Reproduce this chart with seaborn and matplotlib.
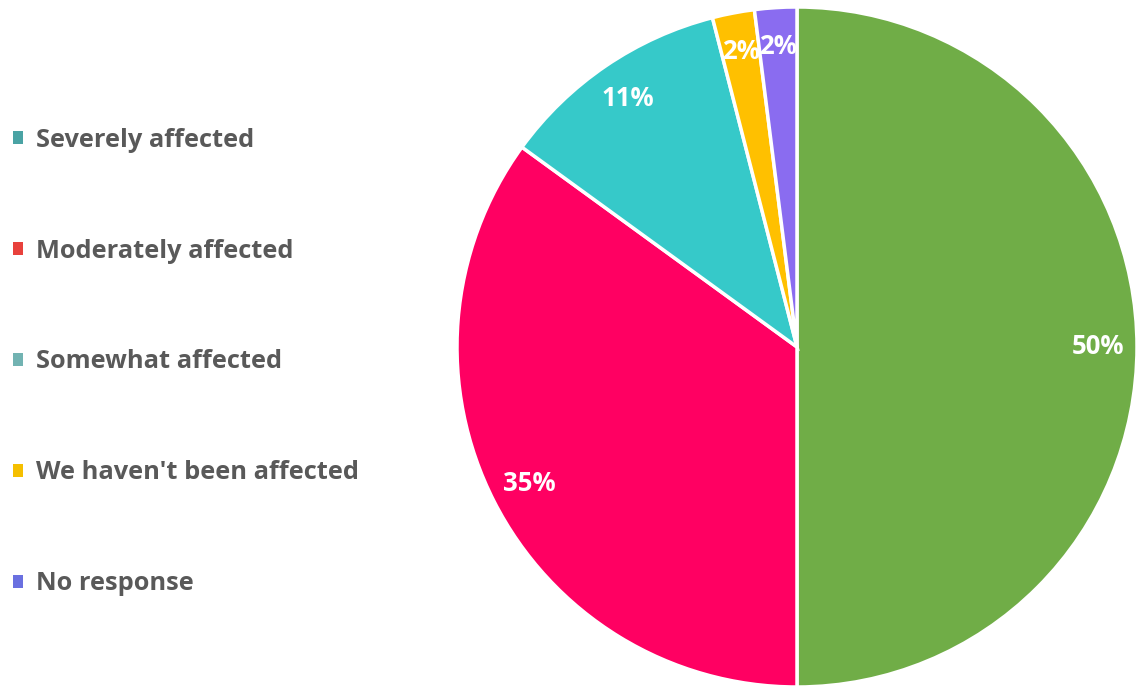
import matplotlib
matplotlib.use("Agg")
import matplotlib.pyplot as plt
from matplotlib.patches import Patch
import seaborn as sns

# Survey responses: how strongly respondents have been affected
categories = ["Severely affected", "Moderately affected", "Somewhat affected",
              "We haven't been affected", "No response"]
shares = [50, 35, 11, 2, 2]

slice_colors = ["#70ad47", "#ff0062", "#36c9c9", "#ffc000", "#8a6cf0"]
legend_colors = ["#4aa3a4", "#e8413c", "#72b3b2", "#f5bf00", "#6a70e0"]

sns.set_theme(style="white")
plt.rcParams["font.family"] = ["Open Sans", "DejaVu Sans"]

W, H = 1142, 687
fig = plt.figure(figsize=(W / 100, H / 100), dpi=100)

cx, cy, r = 797, 347, 340
ax = fig.add_axes([(cx - r) / W, (H - cy - r) / H, 2 * r / W, 2 * r / H])

palette = sns.color_palette(slice_colors)
wedges, texts, autotexts = ax.pie(
    shares,
    colors=palette,
    startangle=90,
    counterclock=False,
    autopct="%d%%",
    pctdistance=0.885,
    wedgeprops=dict(edgecolor="white", linewidth=2.5),
    textprops=dict(color="white", fontsize=18.5, fontweight="bold"),
)
ax.set_aspect("equal")
ax.set_xlim(-1.0, 1.0)
ax.set_ylim(-1.0, 1.0)
ax.axis("off")

handles = [Patch(facecolor=c, edgecolor="none") for c in legend_colors]
fig.legend(
    handles, categories,
    loc="upper left",
    bbox_to_anchor=(0.0022, 0.829),
    borderaxespad=0,
    frameon=False,
    handlelength=0.4,
    handleheight=0.4,
    handletextpad=0.5,
    labelspacing=3.38,
    prop=dict(size=18.3, weight="bold"),
    labelcolor="#595959",
)

fig.savefig("out.png", dpi=100, facecolor="white")
